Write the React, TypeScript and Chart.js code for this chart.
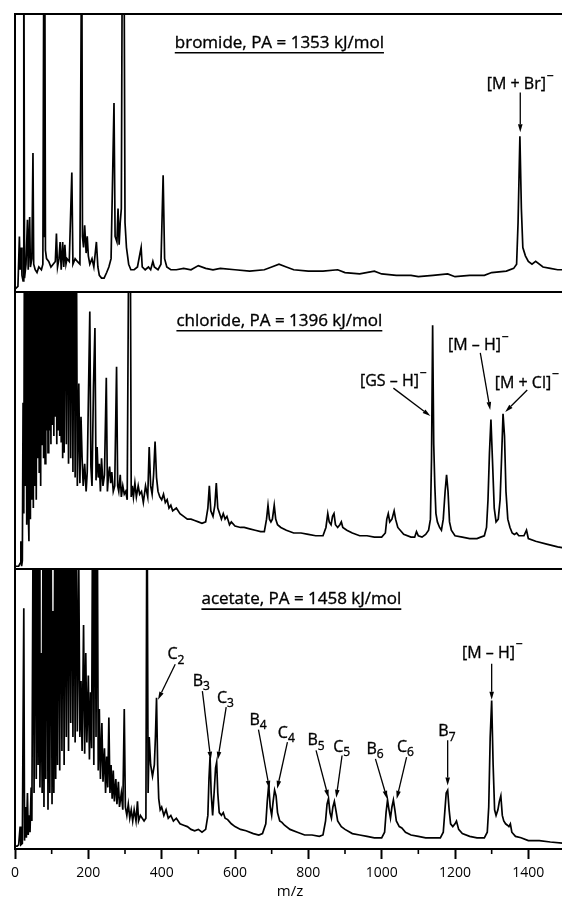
import React, { useEffect, useRef } from 'react';
import { Chart, registerables } from 'chart.js';
Chart.register(...registerables);

const FONT = '"Open Sans", "DejaVu Sans", sans-serif';

// ---------- axis ----------
const X_MIN = 0;
const X_MAX = 1500;
const majorTicks = [0, 200, 400, 600, 800, 1000, 1200, 1400];
const minorTicks = [100, 300, 500, 700, 900, 1100, 1300];
const xTitle = 'm/z';

// ---------- bromide (top) ----------
const bromideMz = [
  0, 8, 12, 14, 17, 19, 22, 24, 26, 30,
  34, 36, 40, 42, 46, 49, 51, 55, 60, 65,
  72, 76, 79, 80, 81, 83, 86, 92, 98, 104,
  110, 113, 116, 120, 123, 126, 130, 133, 136, 139,
  142, 148, 155, 158, 164, 170, 177, 182, 184, 187,
  190, 194, 197, 200, 204, 210, 215, 222, 226, 230,
  236, 243, 250, 256, 262, 270, 273, 278, 281, 284,
  287, 290, 293, 297, 300, 304, 310, 316, 325, 334,
  341, 344, 347, 355, 364, 370, 376, 380, 390, 398,
  404, 408, 414, 425, 440, 460, 480, 500, 520, 540,
  560, 600, 640, 680, 700, 720, 740, 760, 800, 840,
  880, 900, 940, 980, 1000, 1040, 1080, 1100, 1140, 1180,
  1200, 1240, 1280, 1300, 1340, 1360, 1368, 1372, 1377, 1381,
  1385, 1392, 1400, 1410, 1420, 1440, 1460, 1480, 1500,
];
const bromideInt = [
  1, 2, 20, 8, 16, 6, 4, 140, 5, 10,
  26, 8, 27, 9, 12, 50, 10, 8, 7, 9,
  8, 10, 140, 20, 140, 15, 12, 11, 9, 10,
  11, 21, 9, 12, 18, 8, 18, 9, 17, 10,
  12, 11, 43, 10, 12, 11, 10, 140, 20, 16,
  24, 14, 20, 13, 10, 12, 9, 18, 9, 6,
  5, 5, 7, 9, 12, 68, 20, 18, 30, 17,
  25, 30, 140, 140, 25, 16, 10, 8, 8, 9,
  14, 16, 9, 8, 9, 8, 11, 9, 8, 10,
  42, 12, 9, 8, 8, 8.5, 8, 9.5, 8.5, 8,
  8.5, 8, 7.5, 8, 9, 10, 9, 8, 7.5, 7.5,
  8, 7, 6.5, 7.5, 6.5, 6, 6, 5.5, 6, 6.5,
  5.5, 6, 6, 7, 7.5, 8.5, 10, 25, 56, 30,
  16, 13, 11, 10, 11, 9, 8.5, 8, 8,
];

// ---------- chloride (middle) ----------
const chlorideMz = [
  0, 10, 14, 16, 18, 20, 22, 24, 26, 28,
  30, 32, 34, 36, 38, 40, 42, 44, 46, 48,
  50, 52, 54, 56, 58, 60, 62, 64, 66, 68,
  70, 72, 74, 76, 78, 80, 82, 84, 86, 88,
  90, 92, 94, 96, 98, 100, 102, 104, 106, 108,
  110, 112, 114, 116, 118, 120, 122, 124, 126, 128,
  130, 132, 134, 137, 140, 143, 146, 149, 152, 155,
  158, 161, 164, 167, 170, 174, 177, 180, 183, 186,
  190, 194, 197, 204, 207, 210, 214, 218, 221, 224,
  227, 230, 233, 236, 240, 244, 249, 252, 255, 258,
  261, 264, 268, 272, 277, 280, 283, 287, 290, 294,
  298, 302, 306, 311, 314, 317, 320, 323, 327, 331,
  336, 340, 345, 350, 356, 362, 366, 370, 374, 378,
  382, 386, 390, 395, 400, 405, 410, 415, 420, 425,
  430, 440, 450, 460, 470, 480, 490, 500, 510, 520,
  526, 530, 534, 540, 545, 549, 553, 558, 563, 568,
  573, 578, 585, 590, 600, 615, 625, 640, 655, 670,
  680, 686, 690, 694, 698, 702, 707, 711, 716, 725,
  740, 760, 780, 800, 820, 840, 848, 853, 857, 862,
  866, 870, 874, 880, 886, 890, 894, 905, 920, 940,
  960, 980, 1000, 1010, 1014, 1018, 1022, 1028, 1034, 1038,
  1044, 1060, 1080, 1090, 1095, 1100, 1110, 1120, 1128, 1133,
  1136, 1139, 1142, 1145, 1148, 1152, 1158, 1163, 1168, 1173,
  1177, 1181, 1185, 1190, 1200, 1220, 1240, 1260, 1270, 1280,
  1286, 1290, 1294, 1298, 1302, 1307, 1312, 1318, 1323, 1327,
  1331, 1335, 1339, 1344, 1350, 1356, 1362, 1368, 1374, 1380,
  1388, 1395, 1400, 1420, 1450, 1480, 1500,
];
const chlorideInt = [
  1, 1, 2, 10, 1, 3, 60, 20, 140, 30,
  140, 16, 140, 22, 10, 140, 18, 140, 25, 140,
  22, 140, 30, 140, 25, 140, 40, 140, 35, 140,
  30, 140, 45, 140, 40, 140, 38, 140, 50, 140,
  42, 140, 50, 140, 45, 140, 52, 140, 48, 140,
  55, 140, 45, 140, 50, 140, 48, 140, 46, 140,
  40, 140, 42, 140, 45, 140, 38, 140, 40, 140,
  35, 140, 33, 140, 30, 67, 31, 55, 40, 30,
  38, 28, 35, 93, 37, 30, 66, 87, 32, 44,
  33, 38, 28, 40, 30, 34, 69, 28, 34, 37,
  31, 35, 28, 30, 73, 30, 28, 34, 26, 30,
  27, 28, 25, 140, 140, 26, 30, 26, 31, 26,
  30, 27, 28, 24, 30, 26, 44, 30, 27, 34,
  46, 33, 28, 26, 25, 27, 24, 25, 22, 23,
  21, 22, 20, 19, 18, 18, 17.5, 17, 16.5, 17,
  22, 30, 21, 19, 23, 31, 22, 20, 18, 20,
  18, 19, 16, 17, 15.5, 15, 15, 14.5, 14, 13.5,
  13.5, 18, 23, 18, 17, 18, 23, 18, 16, 15,
  14, 13, 13, 12.5, 12, 12, 15, 20, 17, 16,
  19, 20, 16, 15, 16, 17, 15, 14, 13, 12,
  12, 11.5, 11.5, 13, 18, 20, 17, 18, 21, 18,
  15, 12.5, 11.5, 11.5, 13.5, 12, 11.5, 12.5, 14, 18,
  40, 88, 45, 30, 20, 17, 15, 14, 18, 28,
  34, 28, 17, 14, 12, 11.5, 11, 11, 11.5, 12,
  15, 25, 42, 54, 40, 22, 17, 18, 25, 40,
  56, 48, 28, 18, 15, 13, 12.5, 13, 12, 12,
  12, 14, 11, 10, 9, 8, 7.5,
];

// ---------- acetate (bottom) ----------
const acetateMz = [
  0, 6, 10, 14, 16, 20, 24, 26, 29, 31,
  34, 36, 39, 41, 44, 46, 50, 52, 55, 58,
  61, 63, 66, 68, 71, 74, 77, 79, 82, 84,
  87, 90, 93, 95, 98, 101, 104, 106, 109, 111,
  114, 116, 119, 122, 125, 128, 131, 134, 137, 140,
  143, 146, 149, 152, 155, 158, 161, 164, 167, 170,
  174, 177, 180, 183, 187, 190, 193, 196, 200, 203,
  206, 209, 212, 215, 218, 221, 224, 227, 230, 233,
  237, 240, 244, 247, 250, 253, 256, 259, 262, 265,
  268, 271, 275, 278, 282, 285, 290, 294, 298, 301,
  305, 309, 313, 317, 321, 325, 330, 334, 337, 342,
  347, 352, 357, 360, 363, 366, 370, 375, 380, 383,
  386, 389, 392, 396, 400, 406, 412, 418, 425, 432,
  440, 450, 460, 470, 480, 490, 500, 510, 520, 526,
  529, 532, 535, 539, 543, 547, 550, 553, 557, 563,
  568, 573, 580, 590, 600, 615, 630, 650, 665, 675,
  684, 688, 692, 696, 700, 704, 708, 712, 716, 722,
  728, 735, 750, 770, 790, 810, 830, 840, 847, 851,
  855, 859, 863, 867, 871, 875, 880, 890, 900, 920,
  940, 960, 980, 1000, 1008, 1012, 1016, 1020, 1024, 1028,
  1032, 1036, 1040, 1048, 1055, 1065, 1080, 1100, 1120, 1140,
  1160, 1168, 1172, 1176, 1180, 1184, 1188, 1194, 1200, 1204,
  1210, 1220, 1240, 1260, 1280, 1288, 1292, 1296, 1300, 1304,
  1308, 1312, 1317, 1321, 1325, 1329, 1333, 1338, 1343, 1347,
  1351, 1355, 1365, 1380, 1400, 1430, 1460, 1500,
];
const acetateInt = [
  1, 1, 1.5, 8, 1.5, 2, 86, 3, 15, 4,
  20, 5, 12, 6, 22, 10, 140, 20, 140, 25,
  140, 30, 140, 22, 70, 20, 140, 15, 140, 25,
  140, 14, 140, 20, 140, 16, 85, 20, 140, 25,
  140, 30, 140, 28, 140, 35, 140, 30, 140, 40,
  140, 35, 140, 45, 140, 40, 140, 38, 140, 42,
  100, 40, 60, 35, 80, 34, 70, 38, 62, 32,
  56, 36, 140, 30, 140, 40, 140, 28, 50, 25,
  45, 24, 36, 20, 33, 22, 47, 20, 30, 18,
  28, 17, 25, 16, 24, 15, 20, 14, 50, 15,
  12, 16, 11, 14, 10, 14, 10, 17, 10, 12,
  11, 10, 11, 140, 20, 40, 30, 26, 30, 40,
  54, 30, 18, 14, 15, 12, 14, 11, 12, 10,
  11, 9, 8.5, 8, 7, 6.5, 7, 6, 7, 12,
  25, 33, 20, 12, 20, 29, 31, 20, 13, 12,
  13, 11, 10.5, 9, 8, 7, 6.5, 5.5, 5, 5.5,
  9, 17, 23, 15, 12, 17, 21, 19, 13, 10,
  9.5, 8.5, 7, 6, 5, 5, 4.5, 5, 10, 16,
  18, 13, 11, 15, 17, 14, 10, 8, 7, 5.5,
  5, 4.5, 4, 4, 6, 13, 17.5, 14, 11, 15,
  17.5, 14, 10, 8, 7.5, 6, 5, 4.5, 4, 4,
  4, 6, 13, 20, 21, 14, 9, 8, 9, 10,
  7, 5.5, 4.5, 4, 4, 6, 15, 40, 53, 30,
  14, 12, 14, 17, 19, 12, 10, 9, 8.5, 8,
  9, 6, 4.5, 4, 3, 3, 2.5, 2,
];

// ---------- annotations (data units: m/z, % of panel height) ----------
type Note = { text: string; mz: number; pct: number };
type Arrow = [number, number, number, number];

const bromideTitle: Note = { text: 'bromide, PA = 1353 kJ/mol', mz: 721, pct: 90 };
const bromideNotes: Note[] = [{ text: '[M + Br]^−', mz: 1378, pct: 75 }];
const bromideArrows: Arrow[] = [[1378, 71.8, 1378, 57.5]];

const chlorideTitle: Note = { text: 'chloride, PA = 1396 kJ/mol', mz: 721, pct: 90 };
const chlorideNotes: Note[] = [
  { text: '[GS – H]^−', mz: 1032, pct: 68 },
  { text: '[M – H]^−', mz: 1264, pct: 81 },
  { text: '[M + Cl]^−', mz: 1396, pct: 67.5 },
];
const chlorideArrows: Arrow[] = [
  [1032, 65.3, 1133, 55.2],
  [1269, 78, 1296, 57.4],
  [1397, 64.6, 1337, 56.7],
];

const acetateTitle: Note = { text: 'acetate, PA = 1458 kJ/mol', mz: 781, pct: 89.6 };
const acetateNotes: Note[] = [
  { text: 'C_2', mz: 439, pct: 69.8 },
  { text: 'B_3', mz: 508, pct: 60.3 },
  { text: 'C_3', mz: 574, pct: 54.3 },
  { text: 'B_4', mz: 663, pct: 46.5 },
  { text: 'C_4', mz: 740, pct: 41.8 },
  { text: 'B_5', mz: 821, pct: 39.1 },
  { text: 'C_5', mz: 891, pct: 36.8 },
  { text: 'B_6', mz: 982, pct: 36.0 },
  { text: 'C_6', mz: 1065, pct: 36.8 },
  { text: 'B_7', mz: 1178, pct: 42.4 },
  { text: '[M – H]^−', mz: 1302, pct: 70.4 },
];
const acetateArrows: Arrow[] = [
  [437, 66, 390, 53.3],
  [511, 56.4, 534, 31.9],
  [576, 50.7, 553, 31.9],
  [664, 42.6, 694, 21.5],
  [743, 38.2, 715, 21.5],
  [821, 35.2, 855, 18.3],
  [892, 33.4, 876, 18.3],
  [983, 32.2, 1015, 17.9],
  [1068, 32.8, 1041, 17.9],
  [1180, 38.8, 1180, 22.7],
  [1300, 66.2, 1300, 53.3],
];

// ---------- drawing helpers ----------
type Seg = { t: string; k: string };
function parseRich(s: string): Seg[] {
  const out: Seg[] = [];
  let buf = '';
  for (let i = 0; i < s.length; i++) {
    const c = s[i];
    if ((c === '_' || c === '^') && i + 1 < s.length) {
      if (buf) { out.push({ t: buf, k: '' }); buf = ''; }
      out.push({ t: s[i + 1], k: c });
      i++;
    } else buf += c;
  }
  if (buf) out.push({ t: buf, k: '' });
  return out;
}

function drawRich(ctx: CanvasRenderingContext2D, s: string, cx: number, cy: number, size: number) {
  const segs = parseRich(s);
  const fontFor = (k: string) => `${k ? Math.round(size * 0.78) : size}px ${FONT}`;
  let total = 0;
  const ws = segs.map((sg) => {
    ctx.font = fontFor(sg.k);
    const w = ctx.measureText(sg.t).width + (sg.k === '^' ? 1 : 0);
    total += w;
    return w;
  });
  let x = cx - total / 2;
  const base = cy + size * 0.36;
  ctx.textBaseline = 'alphabetic';
  ctx.textAlign = 'left';
  ctx.fillStyle = '#000';
  ctx.strokeStyle = '#000';
  ctx.lineWidth = 0.35;
  segs.forEach((sg, i) => {
    ctx.font = fontFor(sg.k);
    const dy = sg.k === '_' ? size * 0.28 : sg.k === '^' ? -size * 0.6 : 0;
    const px = x + (sg.k === '^' ? 1 : 0);
    ctx.fillText(sg.t, px, base + dy);
    ctx.strokeText(sg.t, px, base + dy);
    x += ws[i];
  });
  return { left: cx - total / 2, right: cx + total / 2 };
}

function drawArrow(ctx: CanvasRenderingContext2D, x1: number, y1: number, x2: number, y2: number) {
  const ang = Math.atan2(y2 - y1, x2 - x1);
  const L = 8, W = 2.3;
  const bx = x2 - L * Math.cos(ang), by = y2 - L * Math.sin(ang);
  ctx.beginPath();
  ctx.moveTo(x1, y1);
  ctx.lineTo(bx, by);
  ctx.lineWidth = 1.3;
  ctx.strokeStyle = '#000';
  ctx.stroke();
  ctx.beginPath();
  ctx.moveTo(x2, y2);
  ctx.lineTo(bx + W * Math.sin(ang), by - W * Math.cos(ang));
  ctx.lineTo(bx - W * Math.sin(ang), by + W * Math.cos(ang));
  ctx.closePath();
  ctx.fillStyle = '#000';
  ctx.fill();
}

const panelPlugin = {
  id: 'panelDeco',
  afterDatasetsDraw(chart: any, _args: any, opts: any) {
    const { ctx, chartArea: a, scales } = chart;
    const xs = scales.x, ys = scales.y;
    ctx.save();
    // frame
    ctx.strokeStyle = '#000';
    ctx.lineWidth = 2;
    ctx.strokeRect(a.left, a.top, a.right - a.left, a.bottom - a.top);
    // title + underline
    const t: Note = opts.title;
    const tx = xs.getPixelForValue(t.mz), ty = ys.getPixelForValue(t.pct);
    const r = drawRich(ctx, t.text, tx, ty, 17);
    ctx.beginPath();
    ctx.moveTo(r.left, ty + 11);
    ctx.lineTo(r.right, ty + 11);
    ctx.lineWidth = 1.6;
    ctx.strokeStyle = '#000';
    ctx.stroke();
    // labels
    (opts.notes as Note[]).forEach((n) => {
      drawRich(ctx, n.text, xs.getPixelForValue(n.mz), ys.getPixelForValue(n.pct), 16);
    });
    (opts.arrows as Arrow[]).forEach((ar) => {
      drawArrow(ctx,
        xs.getPixelForValue(ar[0]), ys.getPixelForValue(ar[1]),
        xs.getPixelForValue(ar[2]), ys.getPixelForValue(ar[3]));
    });
    // minor ticks on the shared axis
    if (opts.axis) {
      ctx.lineWidth = 1.6;
      ctx.strokeStyle = '#000';
      minorTicks.forEach((v) => {
        const x = xs.getPixelForValue(v);
        ctx.beginPath();
        ctx.moveTo(x, a.bottom);
        ctx.lineTo(x, a.bottom + 5);
        ctx.stroke();
      });
    }
    ctx.restore();
  },
};

type PanelProps = {
  mz: number[]; inten: number[]; title: Note; notes: Note[]; arrows: Arrow[];
  top: number; h: number; padTop: number; padBottom: number; axis: boolean;
};

const CANVAS_W = 566;

function Panel(p: PanelProps) {
  const ref = useRef<HTMLCanvasElement>(null);
  useEffect(() => {
    const data = p.mz.map((x, i) => ({ x, y: p.inten[i] }));
    const xScale: any = {
      type: 'linear',
      min: X_MIN,
      max: X_MAX,
      display: p.axis,
      afterBuildTicks: (s: any) => {
        s.ticks = majorTicks.map((v) => ({ value: v }));
      },
      border: { display: true, color: '#000', width: 2 },
      grid: {
        drawOnChartArea: false,
        drawTicks: true,
        tickLength: 10,
        tickWidth: 2,
        tickColor: '#000',
      },
      ticks: {
        color: '#000',
        font: { family: FONT, size: 14 },
        padding: 6,
        maxRotation: 0,
        autoSkip: false,
        callback: (v: any) => String(v),
      },
      title: {
        display: true,
        text: xTitle,
        color: '#000',
        font: { family: FONT, size: 15 },
        padding: { top: 0, bottom: 0 },
      },
    };
    if (p.axis) xScale.afterFit = (s: any) => { s.height = 52; };
    const chart = new Chart(ref.current as HTMLCanvasElement, {
      type: 'line',
      data: {
        datasets: [{
          data,
          borderColor: '#000',
          borderWidth: 1.7,
          pointRadius: 0,
          tension: 0,
          fill: false,
        }],
      },
      options: {
        responsive: false,
        maintainAspectRatio: false,
        animation: false,
        events: [],
        layout: { padding: { left: 15, right: 1, top: p.padTop, bottom: p.padBottom } },
        plugins: {
          legend: { display: false },
          tooltip: { enabled: false },
          panelDeco: { title: p.title, notes: p.notes, arrows: p.arrows, axis: p.axis },
        } as any,
        scales: {
          x: xScale,
          y: {
            type: 'linear',
            min: 0,
            max: 100,
            display: false,
          },
        },
      },
      plugins: [panelPlugin as any],
    });
    return () => chart.destroy();
  }, []);
  return (
    <canvas
      ref={ref}
      width={CANVAS_W}
      height={p.h}
      style={{ position: 'absolute', left: 0, top: p.top, width: CANVAS_W, height: p.h, display: 'block' }}
    />
  );
}

export default function App() {
  return (
    <div style={{ position: 'fixed', left: 0, top: 0, width: 562, height: 901, overflow: 'hidden', background: '#fff' }}>
      <Panel mz={bromideMz} inten={bromideInt} title={bromideTitle} notes={bromideNotes} arrows={bromideArrows}
        top={0} h={293} padTop={14} padBottom={1} axis={false} />
      <Panel mz={chlorideMz} inten={chlorideInt} title={chlorideTitle} notes={chlorideNotes} arrows={chlorideArrows}
        top={291} h={279} padTop={1} padBottom={1} axis={false} />
      <Panel mz={acetateMz} inten={acetateInt} title={acetateTitle} notes={acetateNotes} arrows={acetateArrows}
        top={568} h={333} padTop={1} padBottom={0} axis={true} />
    </div>
  );
}
